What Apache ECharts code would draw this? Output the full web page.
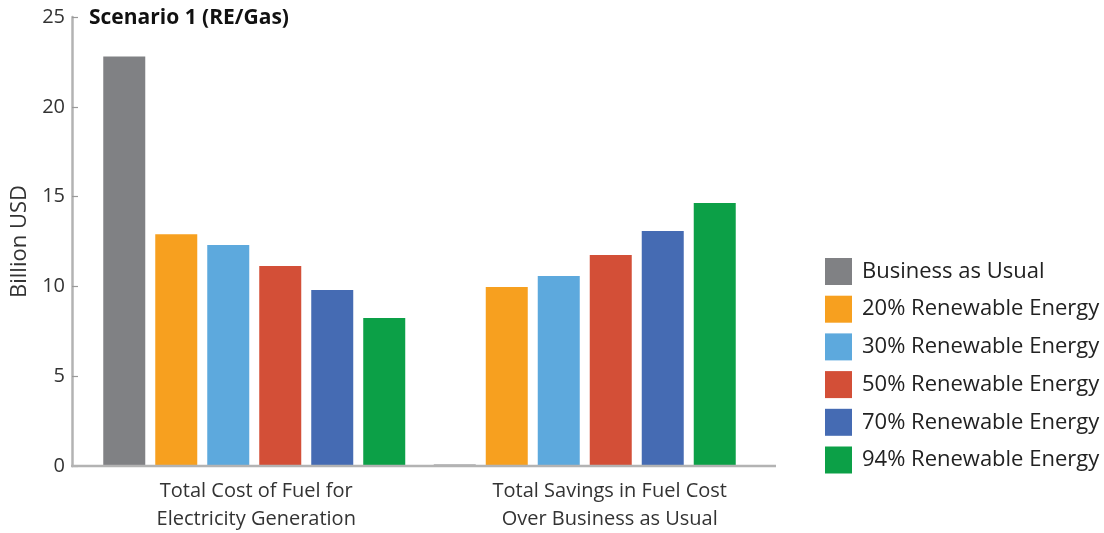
<!DOCTYPE html>
<html><head><meta charset="utf-8">
<script src="https://cdn.jsdelivr.net/npm/echarts@6/dist/echarts.min.js"></script>
<style>html,body{margin:0;padding:0;background:#fff}#c{width:1104px;height:533px}</style>
</head><body><div id="c"></div>
<script>
const categories = ['Total Cost of Fuel for\nElectricity Generation', 'Total Savings in Fuel Cost\nOver Business as Usual'];
const seriesNames = ['Business as Usual', '20% Renewable Energy', '30% Renewable Energy', '50% Renewable Energy', '70% Renewable Energy', '94% Renewable Energy'];
const bau = [22.8, 0.08];
const re20 = [12.9, 9.97];
const re30 = [12.3, 10.58];
const re50 = [11.14, 11.75];
const re70 = [9.8, 13.08];
const re94 = [8.24, 14.64];
const yTicks = [0, 5, 10, 15, 20, 25];
const colors = ['#808184', '#F7A01F', '#5DA9DD', '#D34F37', '#456BB3', '#0CA047'];

const values = [bau, re20, re30, re50, re70, re94];
const FONT = '"Open Sans", "Noto Sans", sans-serif';
const gridLeft = 89, gridTop = 17, gridBottom = 67, gridRight = 354;

const chart = echarts.init(document.getElementById('c'), null, {renderer: 'canvas'});
chart.setOption({
  animation: false,
  textStyle: {fontFamily: FONT},
  title: {text: 'Scenario 1 (RE/Gas)', left: 89, top: 8, padding: 0,
    textStyle: {fontFamily: FONT, fontSize: 21, fontWeight: 'bold', color: '#111'}},
  legend: {
    orient: 'vertical', left: 825, top: 258, icon: 'rect', padding: 0,
    itemWidth: 27, itemHeight: 27, itemGap: 10.7,
    textStyle: {fontFamily: FONT, fontSize: 22, color: '#222', padding: [0, 0, 0, 5]},
    data: seriesNames
  },
  grid: {left: gridLeft, right: gridRight, top: gridTop, bottom: gridBottom, containLabel: false},
  xAxis: {
    type: 'category', data: categories,
    axisLine: {show: false}, axisTick: {show: false},
    axisLabel: {
      interval: 0, hideOverlap: false,
      fontFamily: FONT, fontSize: 20, color: '#333', lineHeight: 28, margin: 11,
      formatter: function (v, i) {
        return v.split('\n').map(function (s) { return (i === 1 ? '{b|' : '{a|') + s + '}'; }).join('\n');
      },
      rich: {
        a: {fontFamily: FONT, fontSize: 20, color: '#333', lineHeight: 28, padding: [0, 0, 0, 4]},
        b: {fontFamily: FONT, fontSize: 20, color: '#333', lineHeight: 28, padding: [0, 0, 0, 50]}
      }
    }
  },
  yAxis: {
    type: 'value', min: yTicks[0], max: yTicks[yTicks.length - 1], interval: 5, offset: 17,
    name: 'Billion USD', nameLocation: 'middle', nameGap: 40, nameRotate: 90,
    nameTextStyle: {fontFamily: FONT, fontSize: 22, color: '#333'},
    axisLine: {show: true, lineStyle: {color: '#b3b3b3', width: 2.5}},
    axisTick: {show: true, inside: true, length: 6, lineStyle: {color: '#999', width: 1.2}},
    axisLabel: {fontFamily: FONT, fontSize: 20, color: '#333', margin: 7},
    splitLine: {show: false}
  },
  graphic: [{
    type: 'line', z: 10,
    shape: {x1: 71, y1: 533 - gridBottom, x2: 776, y2: 533 - gridBottom},
    style: {stroke: '#b3b3b3', lineWidth: 2.5}
  }],
  series: seriesNames.map(function (n, i) {
    return {name: n, type: 'bar', data: values[i], barWidth: 42, barGap: '23.8%',
      itemStyle: {color: colors[i]}};
  })
});
</script></body></html>
